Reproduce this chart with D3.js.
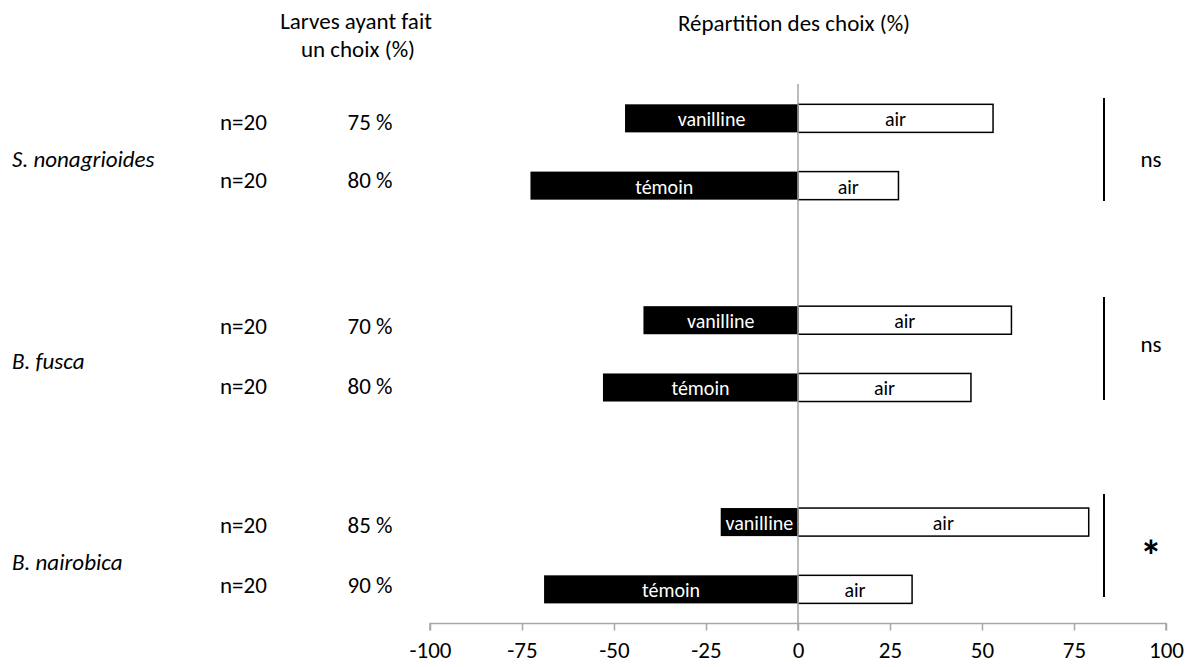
<!DOCTYPE html>
<html lang="fr">
<head>
<meta charset="utf-8">
<title>Répartition des choix des larves</title>
<script src="https://cdn.jsdelivr.net/npm/d3@7"></script>
<style>
  html, body { margin: 0; padding: 0; background: #fff; }
  svg { display: block; }
  text { font-family: Carlito, Calibri, Lato, "Noto Sans", sans-serif; fill: #000; }
</style>
</head>
<body>
<svg id="chart" width="1193" height="667"></svg>
<script>
// Species tested, one pair of rows per species
const species = ["S. nonagrioides", "B. fusca", "B. nairobica"];
// Odour source offered against clean air, row by row
const treatments = ["vanilline", "témoin", "vanilline", "témoin", "vanilline", "témoin"];
// Share of choices (%) for the odour side (drawn to the left) and the air side
const odourShare = [-47, -72.7, -42, -53, -21, -69];
const airShare = [53, 27.3, 58, 47, 79, 31];
// Larvae tested and larvae that made a choice (%)
const nTested = [20, 20, 20, 20, 20, 20];
const responders = [75, 80, 70, 80, 85, 90];
// Test outcome per species
const significance = ["ns", "ns", "*"];
// Axis ticks
const xTicks = [-100, -75, -50, -25, 0, 25, 50, 75, 100];

const svg = d3.select("#chart");

// Row slots: two bars per species, with an empty slot between species
const slots = [];
species.forEach((s, g) => {
  slots.push("r" + (2 * g), "r" + (2 * g + 1));
  if (g < species.length - 1) slots.push("gap" + g);
});

const x = d3.scaleLinear().domain([-100, 100]).range([430, 1166]);
const y = d3.scaleBand().domain(slots).range([84.7, 623]).paddingInner(0.583).paddingOuter(0.2915);
const bw = y.bandwidth();

const rows = treatments.map((t, i) => ({
  slot: "r" + i, treatment: t, odour: odourShare[i], air: airShare[i],
  n: nTested[i], pct: responders[i]
}));

// Axis along the bottom of the plot (plain hyphen for negatives)
const axisY = 623.5;
const axis = d3.axisBottom(x).tickValues(xTicks).tickSize(7).tickSizeOuter(7).tickPadding(11)
  .tickFormat(d => String(d));
const gAxis = svg.append("g").attr("transform", `translate(0,${axisY})`).call(axis);
gAxis.select(".domain").attr("stroke", "#a6a6a6").attr("stroke-width", 1.5)
  .attr("d", `M${x(-100)},7V0H${x(100)}V7`);
gAxis.selectAll(".tick line").attr("stroke", "#a6a6a6").attr("stroke-width", 1.5);
gAxis.selectAll(".tick text").attr("font-size", 23).attr("fill", "#000")
  .style("font-family", "Carlito, Calibri, Lato, 'Noto Sans', sans-serif");

// Bars: odour side in black, air side in white
const gBars = svg.append("g");
gBars.selectAll("rect.odour").data(rows).join("rect")
  .attr("class", "odour")
  .attr("x", d => x(d.odour)).attr("y", d => y(d.slot))
  .attr("width", d => x(0) - x(d.odour)).attr("height", bw)
  .attr("fill", "#000");
gBars.selectAll("rect.air").data(rows).join("rect")
  .attr("class", "air")
  .attr("x", x(0)).attr("y", d => y(d.slot))
  .attr("width", d => x(d.air) - x(0)).attr("height", bw)
  .attr("fill", "#fff").attr("stroke", "#000").attr("stroke-width", 1.5);

// Bar labels
gBars.selectAll("text.odour").data(rows).join("text")
  .attr("class", "odour")
  .attr("x", d => (x(d.odour) + x(0)) / 2).attr("y", d => y(d.slot) + bw / 2 + 1)
  .attr("text-anchor", "middle").attr("dominant-baseline", "central")
  .attr("font-size", 20).style("fill", "#fff")
  .text(d => d.treatment);
gBars.selectAll("text.air").data(rows).join("text")
  .attr("class", "air")
  .attr("x", d => (x(0) + x(d.air)) / 2).attr("y", d => y(d.slot) + bw / 2 + 1)
  .attr("text-anchor", "middle").attr("dominant-baseline", "central")
  .attr("font-size", 20)
  .text("air");

// Zero line
svg.append("line")
  .attr("x1", x(0)).attr("x2", x(0)).attr("y1", 84).attr("y2", axisY + 7)
  .attr("stroke", "#a6a6a6").attr("stroke-width", 1.5);

// Column headers
const headers = svg.append("g").attr("font-size", 23);
headers.append("text").attr("x", 356).attr("y", 29).attr("text-anchor", "middle").text("Larves ayant fait");
headers.append("text").attr("x", 358).attr("y", 57).attr("text-anchor", "middle").text("un choix (%)");
headers.append("text").attr("x", 794).attr("y", 31).attr("text-anchor", "middle").text("Répartition des choix (%)");

// Left-hand table: sample size and responders
const textRowY = [122, 180, 326, 386, 525, 585];
const gTable = svg.append("g").attr("font-size", 23);
gTable.selectAll("text.n").data(rows).join("text")
  .attr("class", "n").attr("x", 220).attr("y", (d, i) => textRowY[i])
  .attr("dominant-baseline", "central")
  .text(d => "n=" + d.n);
gTable.selectAll("text.pct").data(rows).join("text")
  .attr("class", "pct").attr("x", 370).attr("y", (d, i) => textRowY[i])
  .attr("text-anchor", "middle").attr("dominant-baseline", "central")
  .text(d => d.pct + " %");

// Species names
const speciesY = [159, 361, 562];
gTable.selectAll("text.sp").data(species).join("text")
  .attr("class", "sp").attr("x", 12).attr("y", (d, i) => speciesY[i])
  .attr("dominant-baseline", "central").attr("font-style", "italic")
  .text(d => d);

// Significance brackets and labels
const bracketSpans = [[98, 201], [297, 400], [494, 597]];
const gSig = svg.append("g");
gSig.selectAll("line").data(bracketSpans).join("line")
  .attr("x1", 1104).attr("x2", 1104)
  .attr("y1", d => d[0]).attr("y2", d => d[1])
  .attr("stroke", "#000").attr("stroke-width", 2);
const sigY = [159, 344, 549];
gSig.selectAll("text").data(significance).join("text")
  .attr("x", 1151).attr("y", (d, i) => d === "*" ? sigY[i] + 22 : sigY[i])
  .attr("text-anchor", "middle")
  .attr("dominant-baseline", d => d === "*" ? "auto" : "central")
  .attr("font-size", d => d === "*" ? 44 : 23)
  .attr("font-weight", d => d === "*" ? "bold" : "normal")
  .text(d => d);
</script>
</body>
</html>
